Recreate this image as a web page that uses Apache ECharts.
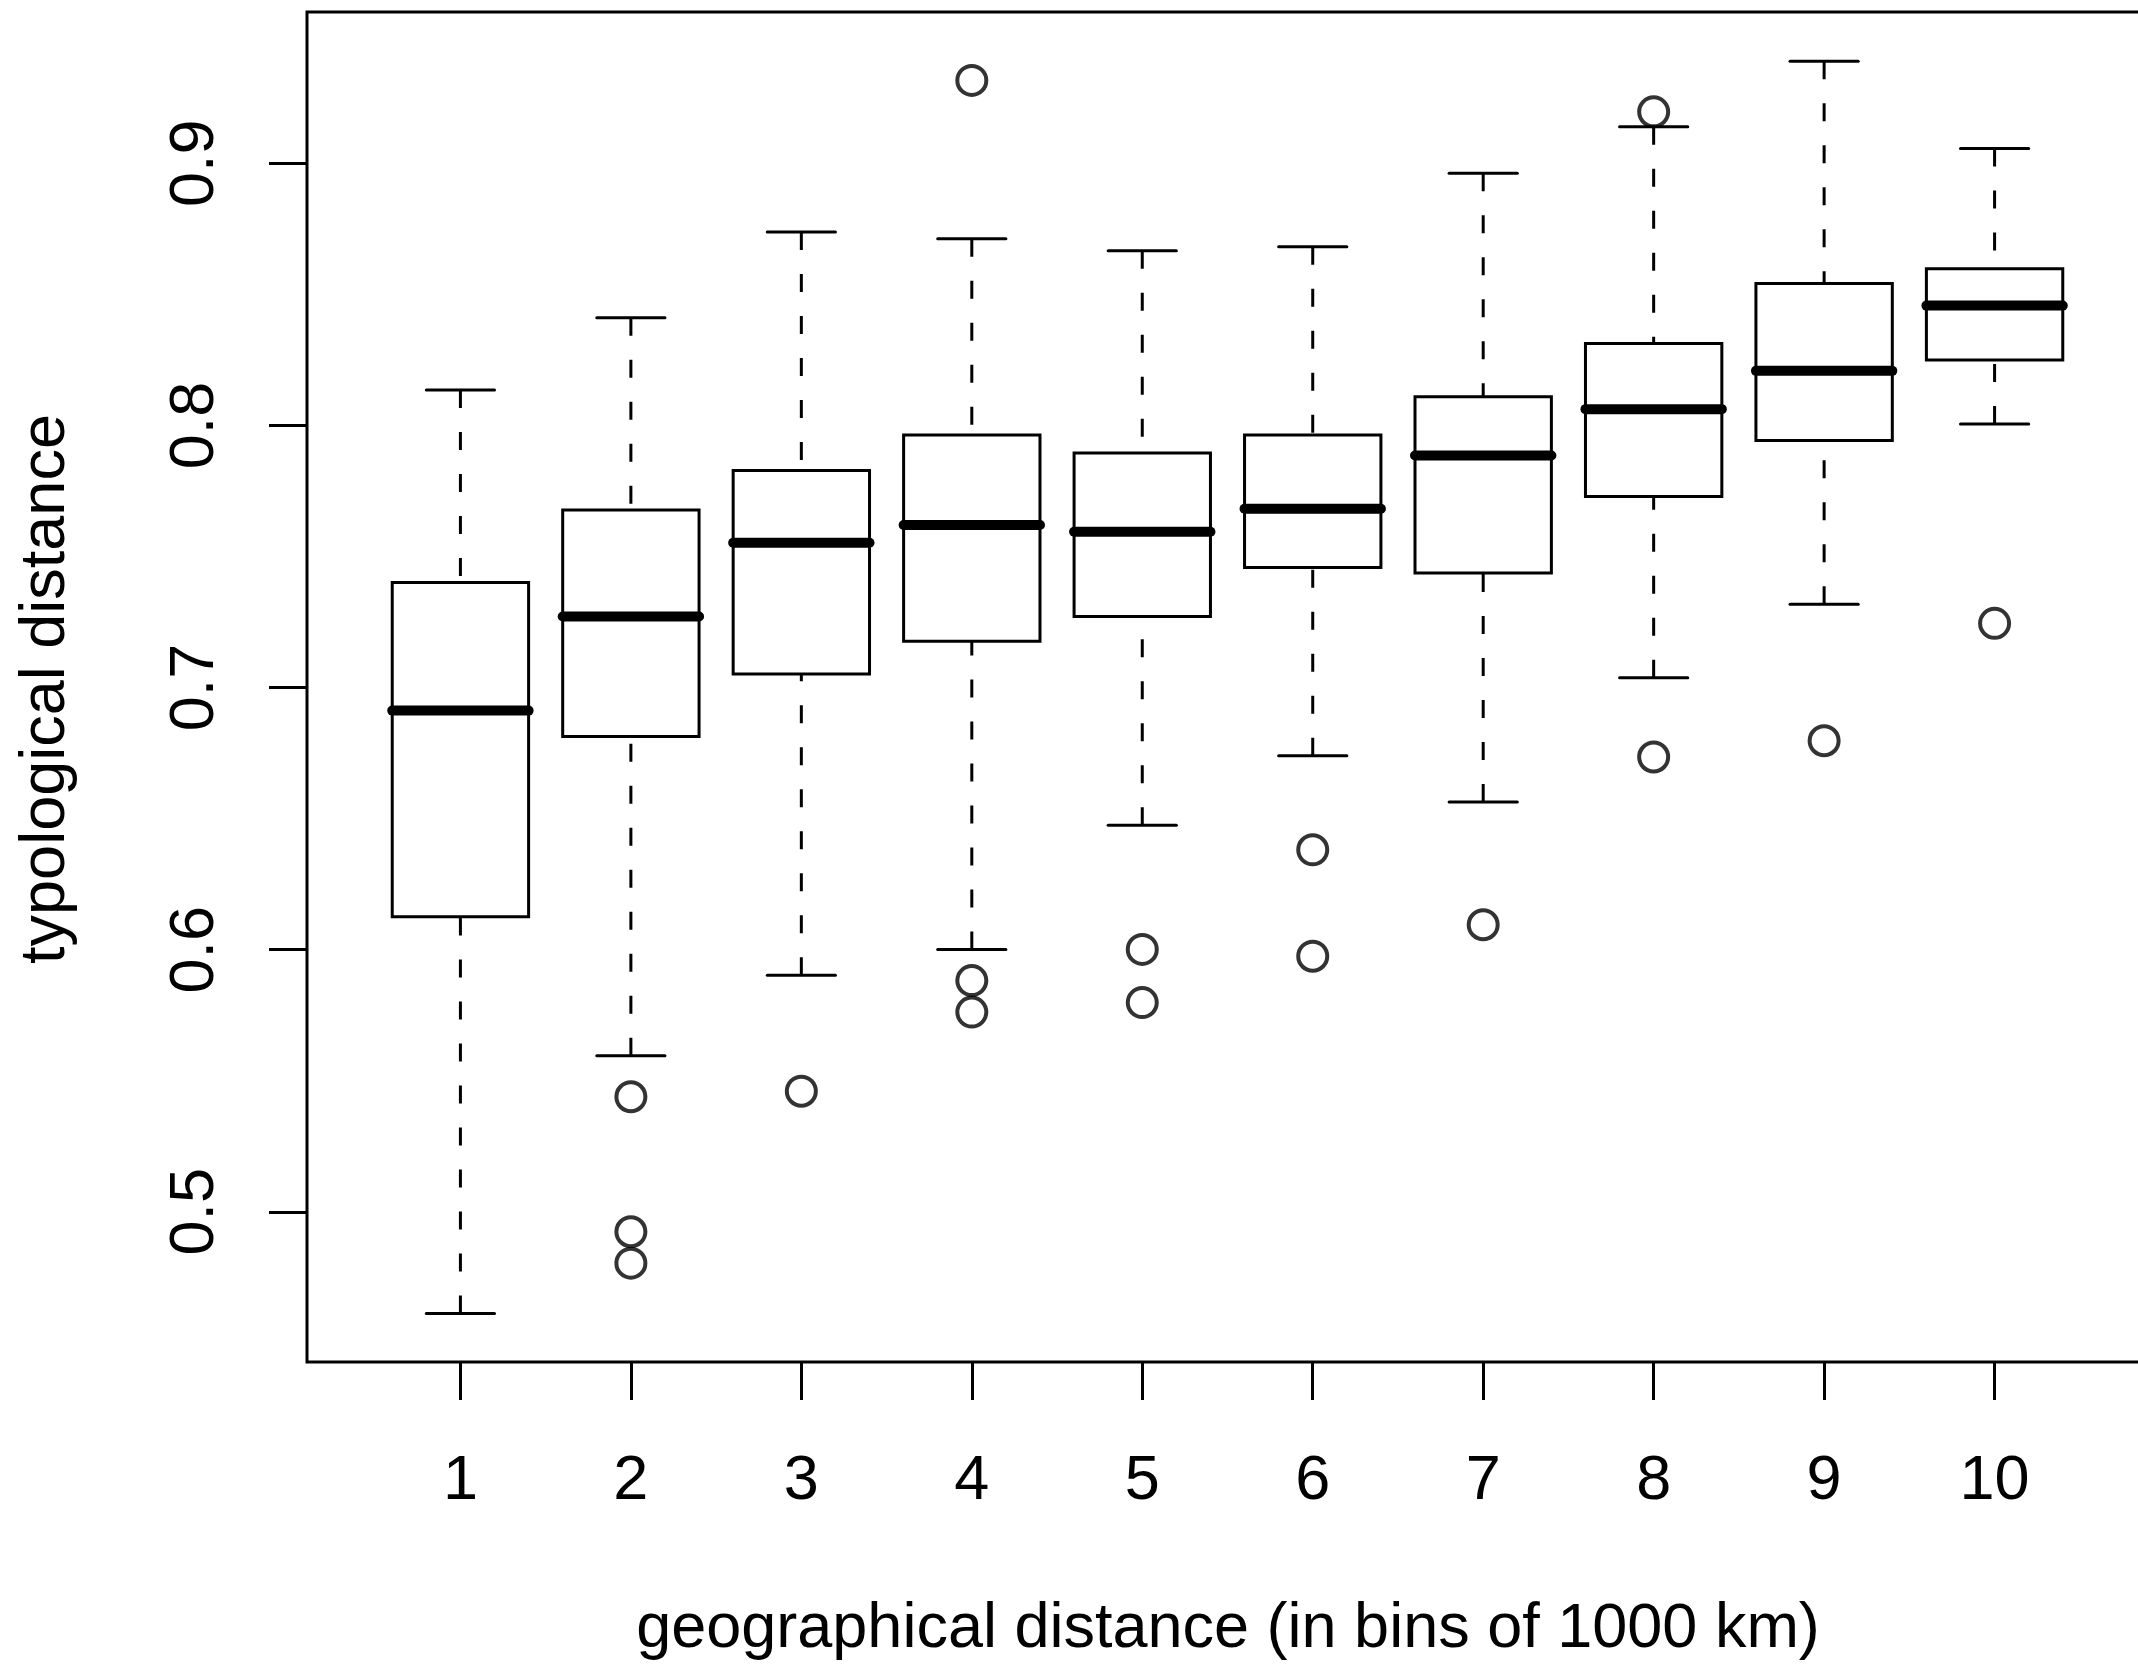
<!DOCTYPE html>
<html>
<head>
<meta charset="utf-8">
<script src="https://cdn.jsdelivr.net/npm/echarts@6/dist/echarts.min.js"></script>
<style>
  html, body { margin: 0; padding: 0; background: #fff; }
  #chart { width: 2138px; height: 1668px; }
</style>
</head>
<body>
<div id="chart"></div>
<script>
// bins of geographical distance (1000 km each)
const categories = [1, 2, 3, 4, 5, 6, 7, 8, 9, 10];

// boxplot stats
const whiskerLow  = [0.4612, 0.5595, 0.5902, 0.6001, 0.6475, 0.6740, 0.6563, 0.7037, 0.7318, 0.8005];
const q1          = [0.6126, 0.6813, 0.7052, 0.7177, 0.7271, 0.7458, 0.7437, 0.7729, 0.7942, 0.8249];
const medians     = [0.6912, 0.7271, 0.7552, 0.7620, 0.7594, 0.7682, 0.7885, 0.8062, 0.8208, 0.8457];
const q3          = [0.7401, 0.7677, 0.7828, 0.7963, 0.7895, 0.7963, 0.8109, 0.8312, 0.8541, 0.8598];
const whiskerHigh = [0.8135, 0.8411, 0.8738, 0.8712, 0.8666, 0.8681, 0.8962, 0.9139, 0.9389, 0.9056];

// outliers: [bin, value]
const outliers = [
  [2, 0.5439], [2, 0.4924], [2, 0.4804],
  [3, 0.5460],
  [4, 0.9316], [4, 0.5882], [4, 0.5762],
  [5, 0.6001], [5, 0.5798],
  [6, 0.6381], [6, 0.5975],
  [7, 0.6095],
  [8, 0.9196], [8, 0.6735],
  [9, 0.6797],
  [10, 0.7245]
];

const yTicks = [0.5, 0.6, 0.7, 0.8, 0.9];

const FONT = '"Liberation Sans", Arial, Helvetica, sans-serif';

function renderBox(params, api) {
  const x = api.value(0);
  const lo = api.coord([x, api.value(1)]);
  const b1 = api.coord([x, api.value(2)]);
  const md = api.coord([x, api.value(3)]);
  const b3 = api.coord([x, api.value(4)]);
  const hi = api.coord([x, api.value(5)]);
  const cx = lo[0];
  const halfBox = api.size([0.4, 0])[0];
  const halfStaple = api.size([0.2, 0])[0];
  const thin = { stroke: '#000', lineWidth: 3, fill: null };
  const dashed = { stroke: '#000', lineWidth: 3, lineDash: [18, 24], lineCap: 'butt' };
  const cap = { stroke: '#000', lineWidth: 3, lineCap: 'round' };
  return {
    type: 'group',
    children: [
      // whiskers drawn from the end toward the box, like R does
      { type: 'line', shape: { x1: cx, y1: hi[1], x2: cx, y2: b3[1] }, style: dashed },
      { type: 'line', shape: { x1: cx, y1: lo[1], x2: cx, y2: b1[1] }, style: dashed },
      { type: 'line', shape: { x1: cx - halfStaple, y1: hi[1], x2: cx + halfStaple, y2: hi[1] }, style: cap },
      { type: 'line', shape: { x1: cx - halfStaple, y1: lo[1], x2: cx + halfStaple, y2: lo[1] }, style: cap },
      { type: 'rect', shape: { x: cx - halfBox, y: b3[1], width: halfBox * 2, height: b1[1] - b3[1] }, style: thin },
      { type: 'line', shape: { x1: cx - halfBox, y1: md[1], x2: cx + halfBox, y2: md[1] },
        style: { stroke: '#000', lineWidth: 10, lineCap: 'round' } }
    ]
  };
}

const chart = echarts.init(document.getElementById('chart'));
chart.setOption({
  backgroundColor: '#fff',
  animation: false,
  grid: {
    left: 307, top: 12, width: 1841, height: 1350,
    outerBoundsMode: 'none',
    containLabel: false,
    show: true, borderColor: '#000', borderWidth: 3, backgroundColor: 'transparent'
  },
  xAxis: {
    type: 'value',
    min: 0.1,
    max: 10.9,
    axisLine: { show: false, onZero: false },
    splitLine: { show: false },
    axisTick: {
      show: true, inside: false, length: 38,
      customValues: categories,
      lineStyle: { color: '#000', width: 3 }
    },
    axisLabel: {
      customValues: categories,
      margin: 88,
      fontSize: 63,
      lineHeight: 63,
      fontFamily: FONT,
      color: '#000'
    }
  },
  yAxis: {
    type: 'value',
    min: 0.4427,
    max: 0.9577,
    axisLine: { show: false, onZero: false },
    splitLine: { show: false },
    axisTick: {
      show: true, inside: false, length: 38,
      customValues: yTicks,
      lineStyle: { color: '#000', width: 3 }
    },
    axisLabel: {
      customValues: yTicks,
      rotate: 90,
      margin: 80,
      fontSize: 63,
      lineHeight: 63,
      fontFamily: FONT,
      color: '#000',
      formatter: v => v.toFixed(1)
    }
  },
  graphic: [
    {
      type: 'text', x: 1228, y: 1630,
      style: {
        text: 'geographical distance (in bins of 1000 km)',
        font: '63px ' + FONT, fill: '#000',
        textAlign: 'center', textVerticalAlign: 'middle'
      }
    },
    {
      type: 'text', x: 47, y: 689, rotation: Math.PI / 2,
      style: {
        text: 'typological distance',
        font: '63px ' + FONT, fill: '#000',
        textAlign: 'center', textVerticalAlign: 'middle'
      }
    }
  ],
  series: [
    {
      type: 'custom',
      renderItem: renderBox,
      silent: true,
      data: categories.map((c, i) => [c, whiskerLow[i], q1[i], medians[i], q3[i], whiskerHigh[i]])
    },
    {
      type: 'scatter',
      silent: true,
      symbol: 'circle',
      symbolSize: 29,
      itemStyle: { color: 'transparent', borderColor: '#000', borderWidth: 4 },
      data: outliers
    }
  ]
});
</script>
</body>
</html>
